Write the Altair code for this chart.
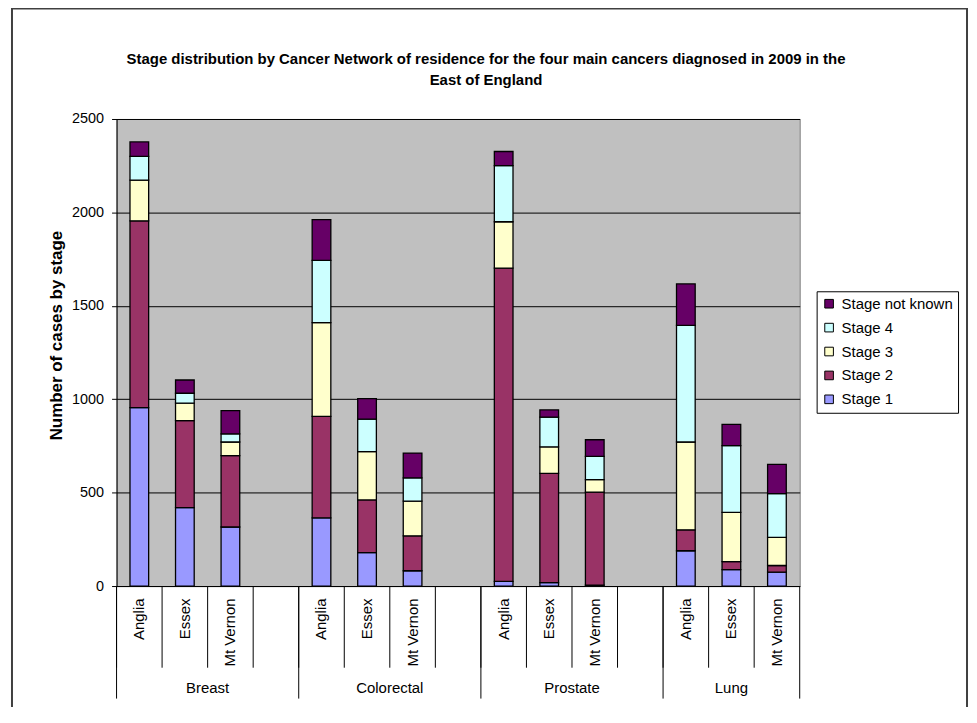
import altair as alt
import pandas as pd

FONT = "Liberation Sans"

cancers = ["Breast", "Colorectal", "Prostate", "Lung"]
networks = ["Anglia", "Essex", "Mt Vernon"]
stages = ["Stage 1", "Stage 2", "Stage 3", "Stage 4", "Stage not known"]
stage_colors = ["#9999FF", "#993366", "#FFFFCC", "#CCFFFF", "#660066"]

# values in order: Breast(Anglia, Essex, Mt Vernon), Colorectal(...), Prostate(...), Lung(...)
stage1 = [955, 420, 316, 365, 179, 82, 25, 18, 5, 189, 88, 75]
stage2 = [1000, 465, 382, 543, 282, 187, 1677, 585, 498, 112, 43, 35]
stage3 = [218, 94, 73, 502, 259, 186, 248, 142, 67, 470, 263, 151]
stage4 = [127, 53, 44, 333, 174, 124, 300, 159, 124, 624, 358, 234]
stage_nk = [77, 71, 124, 218, 109, 133, 76, 39, 89, 222, 113, 156]

y_ticks = [0, 500, 1000, 1500, 2000, 2500]
title_lines = [
    "Stage distribution by Cancer Network of residence for the four main cancers diagnosed in 2009 in the",
    "East of England",
]
y_title = "Number of cases by stage"

series = [stage1, stage2, stage3, stage4, stage_nk]

slot_order = []
for ci, c in enumerate(cancers):
    for n in networks:
        slot_order.append(f"{c}|{n}")
    if ci < len(cancers) - 1:
        slot_order.append(f"{c}|gap")

rows = []
i = 0
for c in cancers:
    for n in networks:
        for k, (s, vals) in enumerate(zip(stages, series)):
            rows.append({"slot": f"{c}|{n}", "stage": s, "k": k, "cases": vals[i]})
        i += 1
df = pd.DataFrame(rows)

slots_df = pd.DataFrame({"slot": slot_order})
start_df = pd.DataFrame({"slot": [f"{c}|{networks[0]}" for c in cancers]})
end_df = pd.DataFrame({"slot": [slot_order[-1]]})
lab4_df = pd.DataFrame({"slot": [f"{c}|{networks[2]}" for c in cancers[:-1]], "cancer": cancers[:-1]})
lab3_df = pd.DataFrame({"slot": [f"{cancers[-1]}|{networks[1]}"], "cancer": [cancers[-1]]})

legend_order = stages[::-1]
legend_colors = stage_colors[::-1]

W, H = 686, 469
P_INNER, P_OUTER = 0.59, 0.295
step = W / (len(slot_order) - P_INNER + 2 * P_OUTER)
edge_off = P_OUTER * step  # distance from band start back to slot boundary

xscale = alt.Scale(domain=slot_order, paddingInner=P_INNER, paddingOuter=P_OUTER)

bars = alt.Chart(df).mark_bar(stroke="black", strokeWidth=1.3).encode(
    x=alt.X(
        "slot:N",
        sort=slot_order,
        scale=xscale,
        axis=alt.Axis(
            title=None,
            labelExpr="indexof(datum.value, 'gap') >= 0 ? '' : split(datum.value, '|')[1]",
            labelAngle=270,
            labelAlign="right",
            labelBaseline="middle",
            labelFont=FONT,
            labelFontSize=15,
            labelColor="black",
            labelPadding=12,
            labelOverlap=False,
            ticks=False,
            domainColor="black",
            domainWidth=1,
            grid=False,
        ),
    ),
    y=alt.Y(
        "cases:Q",
        stack="zero",
        scale=alt.Scale(domain=[0, 2500], nice=False),
        axis=alt.Axis(
            values=y_ticks,
            format="d",
            title=y_title,
            titleFont=FONT,
            titleFontSize=17,
            titleFontWeight="bold",
            titleColor="black",
            titlePadding=6,
            titleY=217,
            labelFont=FONT,
            labelFontSize=14.5,
            labelColor="black",
            labelPadding=8,
            tickSize=5,
            tickColor="black",
            domainColor="black",
            grid=True,
            gridColor="black",
            gridWidth=1,
        ),
    ),
    color=alt.Color(
        "stage:N",
        scale=alt.Scale(domain=legend_order, range=legend_colors),
        legend=alt.Legend(
            title=None,
            orient="none",
            legendX=703,
            legendY=173,
            strokeColor="black",
            fillColor="white",
            padding=5,
            rowPadding=8,
            symbolType="square",
            symbolSize=75,
            symbolStrokeColor="black",
            symbolStrokeWidth=1,
            symbolOpacity=1,
            labelFont=FONT,
            labelFontSize=15,
            labelColor="black",
            labelOffset=5,
        ),
    ),
    order=alt.Order("k:Q", sort="ascending"),
)

sep_rules = alt.Chart(slots_df).mark_rule(color="black", strokeWidth=1, xOffset=-edge_off).encode(
    x=alt.X("slot:N", scale=xscale, sort=slot_order, bandPosition=0),
    y=alt.value(H),
    y2=alt.value(H + 82),
)
rule_start = alt.Chart(start_df).mark_rule(color="black", strokeWidth=1, xOffset=-edge_off).encode(
    x=alt.X("slot:N", scale=xscale, sort=slot_order, bandPosition=0),
    y=alt.value(H),
    y2=alt.value(H + 113),
)
rule_end = alt.Chart(end_df).mark_rule(color="black", strokeWidth=1, xOffset=edge_off).encode(
    x=alt.X("slot:N", scale=xscale, sort=slot_order, bandPosition=1),
    y=alt.value(H),
    y2=alt.value(H + 113),
)
text_style = dict(font=FONT, fontSize=15, baseline="middle", align="center", color="black")
lab4 = alt.Chart(lab4_df).mark_text(dx=-edge_off, **text_style).encode(
    x=alt.X("slot:N", scale=xscale, sort=slot_order, bandPosition=0),
    y=alt.value(H + 102),
    text="cancer:N",
)
lab3 = alt.Chart(lab3_df).mark_text(**text_style).encode(
    x=alt.X("slot:N", scale=xscale, sort=slot_order, bandPosition=0.5),
    y=alt.value(H + 102),
    text="cancer:N",
)

title_style = dict(font=FONT, fontSize=15, fontWeight="bold", baseline="middle", align="center", color="black")
title1 = alt.Chart(pd.DataFrame({"t": [title_lines[0]]})).mark_text(**title_style).encode(
    x=alt.value(371), y=alt.value(-60), text="t:N"
)
title2 = alt.Chart(pd.DataFrame({"t": [title_lines[1]]})).mark_text(**title_style).encode(
    x=alt.value(371), y=alt.value(-39), text="t:N"
)

frame = alt.Chart(pd.DataFrame({"frame": [1]})).mark_rect(
    fillOpacity=0, stroke="#404040", strokeWidth=2
).encode(
    x=alt.value(-105), x2=alt.value(854), y=alt.value(-111), y2=alt.value(604)
)

chart = (
    alt.layer(bars, sep_rules, rule_start, rule_end, lab4, lab3, title1, title2, frame)
    .properties(
        width=W,
        height=H,
        autosize=alt.AutoSizeParams(type="none"),
        padding={"left": 109, "top": 110, "right": 170, "bottom": 120},
        background="white",
    )
    .configure_view(fill="#C0C0C0", stroke="#808080", strokeWidth=1)
)

chart.save("out.html", embed_options={"renderer": "svg", "actions": False})
